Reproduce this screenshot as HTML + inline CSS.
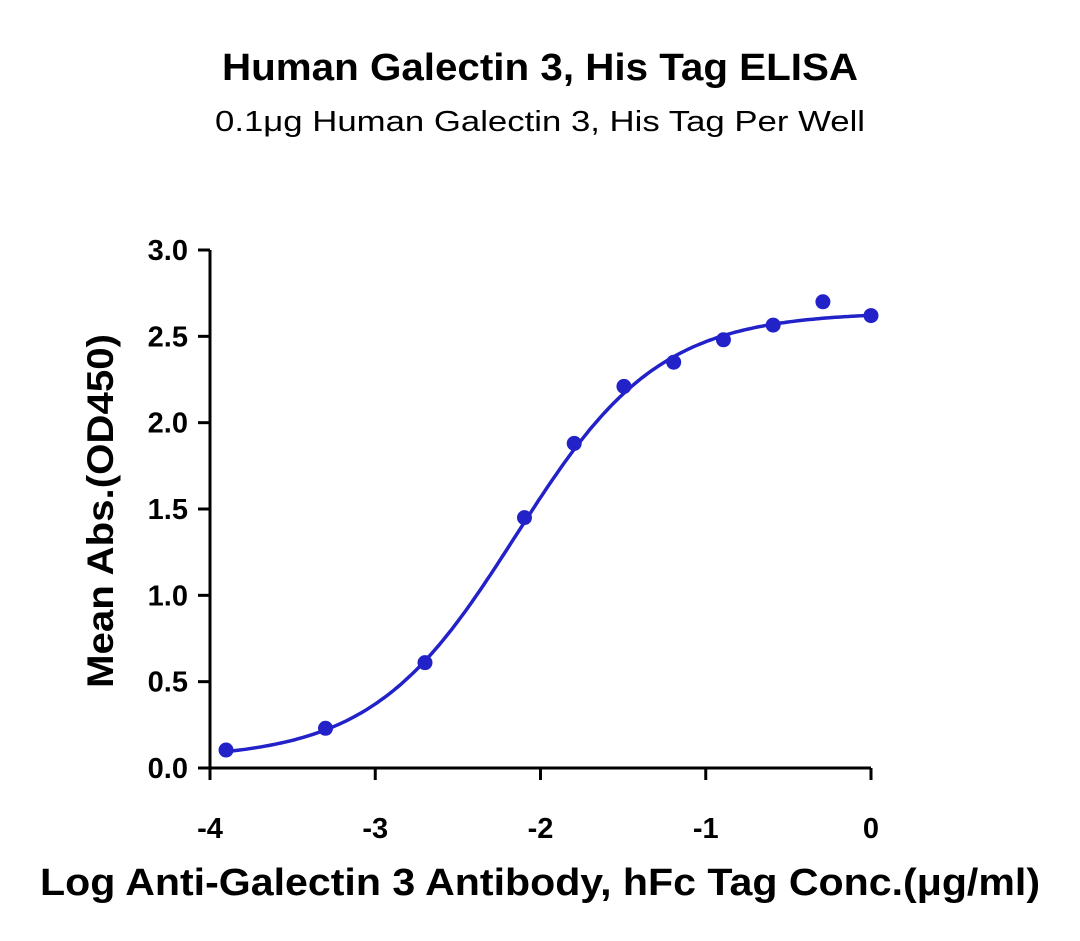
<!DOCTYPE html>
<html><head><meta charset="utf-8"><style>
body{margin:0;background:#fff;}
svg{display:block;font-family:"Liberation Sans",sans-serif;}
</style></head><body>
<svg id="chart" width="1080" height="941">
<text x="540" y="80" text-anchor="middle" font-size="38" font-weight="bold" textLength="636" lengthAdjust="spacingAndGlyphs">Human Galectin 3, His Tag ELISA</text>
<text x="540" y="131" text-anchor="middle" font-size="29" textLength="650" lengthAdjust="spacingAndGlyphs">0.1μg Human Galectin 3, His Tag Per Well</text>
<text transform="translate(113,511) rotate(-90)" text-anchor="middle" font-size="37" font-weight="bold" textLength="354" lengthAdjust="spacingAndGlyphs">Mean Abs.(OD450)</text>
<text x="540" y="895" text-anchor="middle" font-size="38" font-weight="bold" textLength="1000" lengthAdjust="spacingAndGlyphs">Log Anti-Galectin 3 Antibody, hFc Tag Conc.(μg/ml)</text>
<g id="axes"></g><g id="marks"></g>
</svg>
<script>
const xVals=[-3.903,-3.301,-2.699,-2.097,-1.796,-1.495,-1.194,-0.893,-0.592,-0.291,0];
const yVals=[0.104,0.23,0.61,1.45,1.88,2.21,2.35,2.48,2.565,2.70,2.62];
const xTicks=[-4,-3,-2,-1,0];
const yTicks=[0,0.5,1.0,1.5,2.0,2.5,3.0];
const fitParams=[0.05,2.64,-2.15,1.0];
const NS="http://www.w3.org/2000/svg";
const X0=210,X1=871,Y0=768,Y1=250;
function sx(v){return X0+(v-(-4))/4*(X1-X0);}
function sy(v){return Y0-v/3*(Y0-Y1);}
function mk(t,a,p){const e=document.createElementNS(NS,t);for(const k in a)e.setAttribute(k,a[k]);p.appendChild(e);return e;}
const ax=document.getElementById('axes'),mg=document.getElementById('marks');
const yl=mk('line',{x1:X0,y1:Y1,x2:X0,y2:Y0+1.5,stroke:'#000','stroke-width':3},ax);


const xl=mk('line',{x1:X0-1.5,y1:Y0,x2:X1,y2:Y0,stroke:'#000','stroke-width':3},ax);


yTicks.forEach(v=>{
 mk('line',{x1:X0-12,y1:sy(v),x2:X0,y2:sy(v),stroke:'#000','stroke-width':3},ax);
 const t=mk('text',{x:X0-22,y:sy(v)+10,'text-anchor':'end','font-size':29,'font-weight':'bold'},ax);
 t.textContent=v.toFixed(1);
 
 
});
xTicks.forEach(v=>{
 mk('line',{x1:sx(v),y1:Y0,x2:sx(v),y2:Y0+12,stroke:'#000','stroke-width':3},ax);
 const t=mk('text',{x:sx(v),y:Y0+70,'text-anchor':'middle','font-size':29,'font-weight':'bold'},ax);
 t.textContent=String(v);
 
 
});
const [b,tp,c,h]=fitParams;
let d='';
for(let i=0;i<=200;i++){const x=xVals[0]+(0-xVals[0])*i/200;const y=b+(tp-b)/(1+Math.pow(10,(c-x)*h));d+=(i?'L':'M')+sx(x).toFixed(1)+','+sy(y).toFixed(1);}
const p=mk('path',{d:d,fill:'none',stroke:'#2222c8','stroke-width':3.5},mg);


xVals.forEach((x,i)=>{
 const cc=mk('circle',{cx:sx(x),cy:sy(yVals[i]),r:7.5,fill:'#2222c8'},mg);
 
 
});
</script>
</body></html>
